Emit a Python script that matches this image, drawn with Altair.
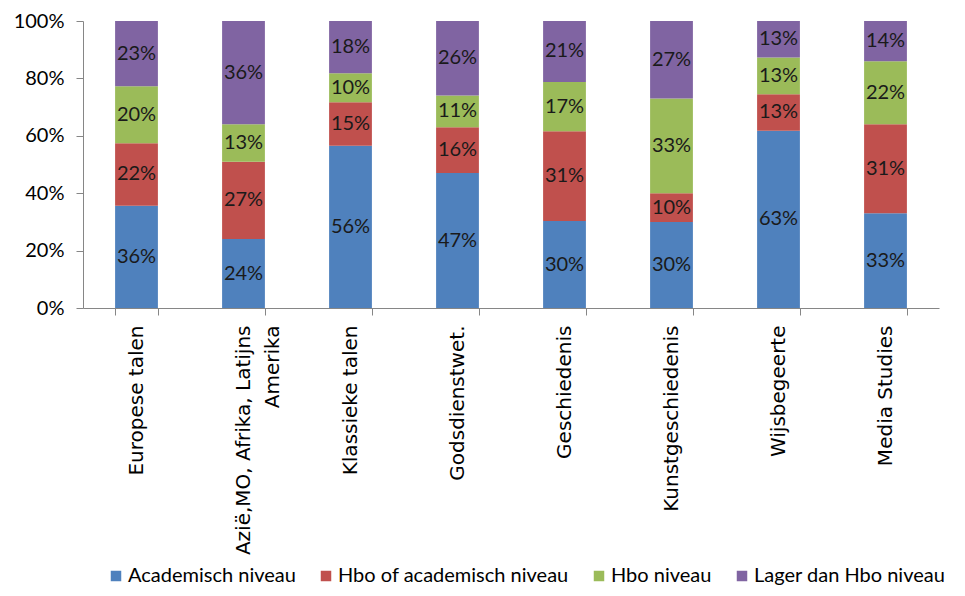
import altair as alt
import pandas as pd

categories = ["Europese talen", "Azië,MO, Afrika, Latijns|Amerika", "Klassieke talen",
              "Godsdienstwet.", "Geschiedenis", "Kunstgeschiedenis", "Wijsbegeerte", "Media Studies"]
series = ["Academisch niveau", "Hbo of academisch niveau", "Hbo niveau", "Lager dan Hbo niveau"]
colors = ["#4F81BD", "#C0504D", "#9BBB59", "#8064A2"]

academisch = [36, 24, 56, 47, 30, 30, 63, 33]
hbo_of_acad = [22, 27, 15, 16, 31, 10, 13, 31]
hbo = [20, 13, 10, 11, 17, 33, 13, 22]
lager = [23, 36, 18, 26, 21, 27, 13, 14]

rows = []
for s_i, (s, vals) in enumerate(zip(series, [academisch, hbo_of_acad, hbo, lager])):
    for c, v in zip(categories, vals):
        rows.append({"cat": c, "series": s, "order": s_i, "value": v})
df = pd.DataFrame(rows)

base = alt.Chart(df).transform_stack(
    stack="value", groupby=["cat"], as_=["y0", "y1"], offset="normalize",
    sort=[alt.SortField("order", order="ascending")]
).transform_calculate(ymid="(datum.y0 + datum.y1) / 2", label="datum.value + '%'")

x_enc = alt.X("cat:N", sort=categories,
              scale=alt.Scale(paddingInner=0.6, paddingOuter=0.3),
              axis=alt.Axis(title=None, labelAngle=270, labelPadding=10, tickBand="extent",
                            labelExpr="split(datum.label, '|')"))

y_enc = alt.Y("y0:Q", scale=alt.Scale(domain=[0, 1], nice=False),
              axis=alt.Axis(title=None, format=".0%", values=[0, 0.2, 0.4, 0.6, 0.8, 1.0],
                            grid=False, labelPadding=12))

bars = base.mark_bar().encode(
    x=x_enc,
    y=y_enc,
    y2="y1:Q",
    color=alt.Color("series:N", sort=series,
                    scale=alt.Scale(domain=series, range=colors),
                    legend=alt.Legend(title=None, orient="none", direction="horizontal",
                                      legendX=23, legendY=545, symbolType="square", symbolSize=110,
                                      symbolStrokeWidth=0, labelFont="Lato", labelFontSize=20,
                                      labelColor="#000000", columnPadding=20, labelLimit=0,
                                      symbolOffset=0, labelOffset=2)),
)

texts = base.mark_text(font="Lato", fontSize=20, color="#1a1a1a").encode(
    x=x_enc,
    y=alt.Y("ymid:Q", scale=alt.Scale(domain=[0, 1], nice=False)),
    text="label:N",
)

chart = alt.layer(bars, texts).properties(
    width=856, height=287,
    padding={"left": 5, "top": 3, "right": 0, "bottom": 0},
).configure_view(stroke=None).configure_axisX(
    labelFont="DejaVu Sans", labelFontSize=20, labelColor="#000000", tickSize=7,
    tickColor="#868686", domainColor="#868686", labelLimit=0, labelLineHeight=29,
).configure_axisY(
    labelFont="Lato", labelFontSize=20, labelColor="#000000", tickSize=7,
    tickColor="#868686", domainColor="#868686",
)

chart.save("out.html", embed_options={"renderer": "svg", "actions": False})
